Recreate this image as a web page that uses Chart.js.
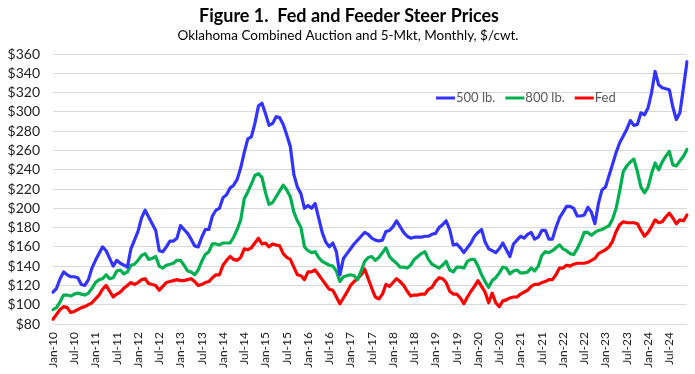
<!DOCTYPE html>
<html>
<head>
<meta charset="utf-8">
<script src="https://cdn.jsdelivr.net/npm/chart.js@4.4.0/dist/chart.umd.min.js"></script>
<style>
  html, body { margin: 0; padding: 0; background: #fff; }
  #wrap { width: 695px; height: 374px; }
</style>
</head>
<body>
<div id="wrap"><canvas id="chart" width="695" height="374"></canvas></div>
<script>
// x categories: monthly, Jan-10 .. Dec-24
const MONTHS = ["Jan","Feb","Mar","Apr","May","Jun","Jul","Aug","Sep","Oct","Nov","Dec"];
const YEARS = ["10","11","12","13","14","15","16","17","18","19","20","21","22","23","24"];

// y ticks
const Y_MIN = 80, Y_MAX = 360, Y_STEP = 20;

const TITLE = "Figure 1.  Fed and Feeder Steer Prices";
const SUBTITLE = "Oklahoma Combined Auction and 5-Mkt, Monthly, $/cwt.";
const SERIES_NAMES = ["500 lb.", "800 lb.", "Fed"];

// 500 lb. steers, $/cwt
const steers500 = [
  113, 117, 127, 134, 131, 129, 129, 128, 121, 120, 126, 138,
  146, 153, 160, 156, 148, 140, 146, 143, 141, 139, 158, 167,
  176, 190, 198, 191, 184, 177, 156, 155, 160, 166, 166, 169,
  182, 178, 174, 168, 161, 160, 170, 178, 178, 192, 198, 200,
  211, 214, 221, 224, 230, 242, 258, 272, 274, 288, 306, 309,
  298, 286, 288, 295, 294, 287, 276, 264, 235, 222, 215, 200,
  203, 200, 205, 190, 175, 165, 160, 164, 155, 131, 148, 153,
  158, 163, 167, 171, 175, 173, 169, 167, 166, 167, 176, 177,
  181, 187, 181, 175, 171, 169, 170, 170, 170, 171, 171, 173,
  174, 180, 183, 187, 178, 162, 163, 159, 154, 159, 164, 171,
  175, 178, 165, 158, 156, 154, 158, 164, 157, 150, 163, 167,
  171, 169, 173, 175, 168, 170, 177, 177, 168, 168, 180, 190,
  196, 202, 202, 200, 192, 192, 193, 201, 196, 184, 205, 219,
  222, 234, 246, 258, 268, 275, 282, 291, 286, 287, 299, 297,
  304, 320, 342, 328, 325, 324, 323, 305, 292, 299, 325, 352
];

// 800 lb. steers
const steers800 = [
  95, 97, 103, 110, 110, 109, 111, 112, 111, 110, 112, 117,
  123, 126, 127, 131, 127, 128, 135, 136, 132, 134, 141, 142,
  146, 151, 153, 147, 148, 150, 140, 138, 141, 142, 143, 146,
  146, 141, 135, 134, 131, 136, 145, 152, 155, 163, 163, 162,
  164, 164, 164, 170, 178, 188, 210, 217, 225, 234, 236, 232,
  216, 204, 206, 212, 218, 224, 219, 212, 196, 187, 180, 160,
  156, 154, 155, 149, 145, 143, 141, 140, 135, 124, 129, 130,
  131, 130, 126, 135, 145, 149, 150, 146, 149, 154, 159, 150,
  146, 143, 139, 139, 138, 141, 147, 150, 153, 155, 147, 142,
  140, 138, 141, 145, 136, 134, 139, 139, 138, 145, 147, 147,
  140, 131, 124, 118, 125, 128, 133, 139, 138, 132, 135, 136,
  133, 133, 134, 138, 135, 140, 151, 155, 154, 156, 159, 162,
  158, 156, 153, 152, 158, 166, 175, 175, 172, 175, 177, 178,
  180, 182, 189, 200, 218, 238, 244, 248, 251, 238, 222, 216,
  222, 236, 247, 240, 248, 254, 259, 245, 244, 249, 254, 261
];

// Fed steers, 5-Mkt
const fedSteers = [
  85, 90, 95, 98, 97, 92, 93, 95, 97, 98, 100, 102,
  106, 110, 116, 120, 114, 108, 111, 113, 117, 120, 123, 121,
  123, 126, 127, 122, 121, 120, 115, 119, 123, 124, 125, 126,
  125, 125, 126, 127, 124, 120, 121, 123, 124, 128, 131, 131,
  141, 146, 150, 147, 146, 149, 158, 157, 159, 164, 169, 163,
  164, 160, 163, 162, 161, 153, 149, 147, 139, 131, 130, 126,
  134, 134, 136, 131, 126, 121, 116, 115, 108, 101, 107, 113,
  120, 124, 127, 131, 137, 127, 117, 108, 106, 111, 121, 119,
  123, 127, 124, 120, 114, 109, 110, 110, 111, 111, 116, 118,
  124, 128, 127, 123, 114, 111, 111, 107, 101, 108, 114, 119,
  125, 119, 113, 102, 112, 102, 98, 104, 105, 107, 108, 108,
  111, 113, 115, 119, 121, 121, 123, 124, 126, 126, 131, 138,
  138, 141, 140, 142, 143, 143, 143, 144, 146, 148, 153, 155,
  157, 160, 166, 176, 183, 186, 185, 185, 185, 184, 177, 171,
  175, 181, 188, 185, 186, 191, 195, 190, 184, 188, 187, 193
];

const labels = [];
YEARS.forEach(y => MONTHS.forEach(m => labels.push(`${m}-${y}`)));

const FONT = "Lato, 'Open Sans', sans-serif";
const COLORS = ["#3333ff", "#00b050", "#ff0000"];

// title + subtitle + in-plot legend, drawn on the canvas
const decor = {
  id: "decor",
  afterDraw(chart) {
    const ctx = chart.ctx;
    ctx.save();
    ctx.fillStyle = "#000";
    ctx.textAlign = "center";
    ctx.textBaseline = "alphabetic";
    ctx.font = `bold 18px ${FONT}`;
    ctx.fillText(TITLE, 349, 22);
    ctx.font = `13.5px ${FONT}`;
    ctx.fillText(SUBTITLE, 348, 40);

    // legend row
    ctx.font = `13px ${FONT}`;
    ctx.textAlign = "left";
    ctx.textBaseline = "middle";
    let x = 436;
    const y = 98;
    chart.data.datasets.forEach(ds => {
      ctx.strokeStyle = ds.borderColor;
      ctx.lineWidth = 3;
      ctx.beginPath();
      ctx.moveTo(x, y);
      ctx.lineTo(x + 19, y);
      ctx.stroke();
      ctx.fillStyle = "#595959";
      ctx.fillText(ds.label, x + 20, y);
      x += 20 + ctx.measureText(ds.label).width + 10;
    });
    ctx.restore();
  }
};

const mk = (label, data, color) => ({
  label, data,
  borderColor: color,
  backgroundColor: color,
  borderWidth: 3.2,
  pointRadius: 0,
  tension: 0,
  borderJoinStyle: "round",
  borderCapStyle: "round"
});

new Chart(document.getElementById("chart"), {
  type: "line",
  data: {
    labels,
    datasets: [
      mk(SERIES_NAMES[0], steers500, COLORS[0]),
      mk(SERIES_NAMES[1], steers800, COLORS[1]),
      mk(SERIES_NAMES[2], fedSteers, COLORS[2])
    ]
  },
  options: {
    responsive: false,
    devicePixelRatio: 1,
    animation: false,
    layout: { padding: { top: 54, right: 8, bottom: 0, left: 0 } },
    plugins: {
      legend: { display: false },
      title: { display: false },
      tooltip: { enabled: false }
    },
    scales: {
      x: {
        offset: false,
        grid: { display: false, drawTicks: false },
        border: { display: false },
        ticks: {
          autoSkip: false,
          minRotation: 90,
          maxRotation: 90,
          padding: 8,
          color: "#222",
          font: { family: FONT, size: 12 },
          callback: (v, i) => (i % 6 === 0 ? labels[i] : null)
        },
        afterFit: s => { s.height = 50; }
      },
      y: {
        min: Y_MIN,
        max: Y_MAX,
        grid: { color: "#d9d9d9", lineWidth: 1, drawTicks: false },
        border: { display: false },
        ticks: {
          stepSize: Y_STEP,
          autoSkip: false,
          padding: 13,
          color: "#222",
          font: { family: FONT, size: 14 },
          callback: v => "$" + v
        },
        afterFit: s => { s.width = 53; }
      }
    }
  },
  plugins: [decor]
});
</script>
</body>
</html>
